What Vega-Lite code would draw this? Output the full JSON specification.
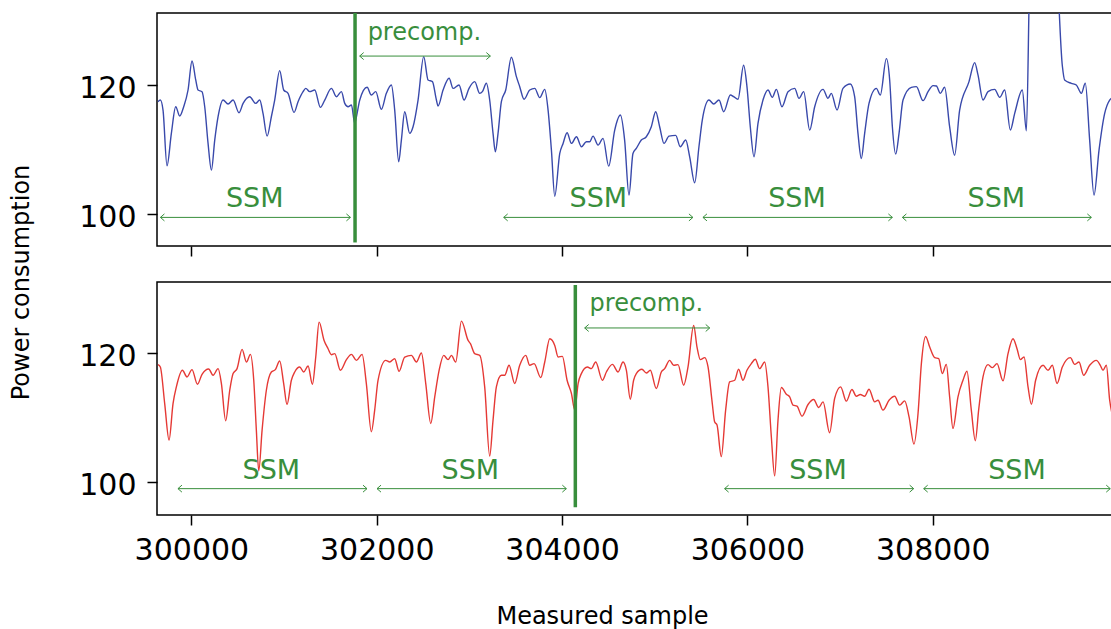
{
  "$schema": "https://vega.github.io/schema/vega-lite/v6.json",
  "padding": {"left": 8, "top": 10, "right": 0, "bottom": 5},
  "config": {
    "font": "DejaVu Sans",
    "view": {"stroke": "black", "strokeWidth": 1.5},
    "axis": {
      "domain": false,
      "grid": false,
      "tickColor": "black",
      "tickWidth": 1.5,
      "tickSize": 10,
      "labelFontSize": 30,
      "labelColor": "black",
      "titleFontSize": 24,
      "titleColor": "black",
      "titleFontWeight": "normal"
    }
  },
  "datasets": {
    "topLine": [
      {"x":299640,"y":117.40},{"x":299665,"y":117.66},{"x":299694,"y":116.10},{"x":299737,"y":107.43},{"x":299784,"y":112.47},
      {"x":299831,"y":116.62},{"x":299874,"y":115.17},{"x":299917,"y":116.62},{"x":299964,"y":119.22},{"x":300007,"y":123.74},
      {"x":300047,"y":120.78},{"x":300072,"y":119.22},{"x":300115,"y":118.96},{"x":300144,"y":116.62},{"x":300180,"y":110.91},
      {"x":300216,"y":106.75},{"x":300252,"y":111.43},{"x":300288,"y":115.06},{"x":300342,"y":117.66},{"x":300396,"y":117.04},
      {"x":300450,"y":117.66},{"x":300514,"y":115.69},{"x":300558,"y":117.14},{"x":300629,"y":118.18},{"x":300694,"y":117.14},
      {"x":300737,"y":117.66},{"x":300773,"y":115.58},{"x":300817,"y":112.05},{"x":300863,"y":115.06},{"x":300899,"y":117.66},
      {"x":300953,"y":122.23},{"x":300996,"y":119.22},{"x":301043,"y":118.70},{"x":301108,"y":115.74},{"x":301151,"y":117.40},
      {"x":301205,"y":118.96},{"x":301234,"y":119.48},{"x":301277,"y":118.96},{"x":301331,"y":119.22},{"x":301392,"y":116.52},
      {"x":301439,"y":117.66},{"x":301511,"y":119.48},{"x":301565,"y":118.18},{"x":301619,"y":118.96},{"x":301655,"y":117.14},
      {"x":301691,"y":116.62},{"x":301727,"y":116.88},{"x":301763,"y":114.03},{"x":301781,"y":115.06},{"x":301817,"y":117.66},
      {"x":301896,"y":119.64},{"x":301942,"y":118.44},{"x":301989,"y":118.96},{"x":302050,"y":116.21},{"x":302104,"y":118.70},
      {"x":302158,"y":120.00},{"x":302194,"y":116.10},{"x":302237,"y":108.05},{"x":302266,"y":111.43},{"x":302302,"y":115.84},
      {"x":302356,"y":112.47},{"x":302392,"y":113.51},{"x":302446,"y":117.66},{"x":302507,"y":124.42},{"x":302554,"y":120.78},
      {"x":302601,"y":120.52},{"x":302644,"y":117.66},{"x":302662,"y":116.73},{"x":302716,"y":119.22},{"x":302781,"y":121.04},
      {"x":302824,"y":119.48},{"x":302888,"y":120.00},{"x":302942,"y":117.66},{"x":302996,"y":119.48},{"x":303057,"y":120.52},
      {"x":303111,"y":118.70},{"x":303140,"y":118.96},{"x":303183,"y":120.26},{"x":303219,"y":117.66},{"x":303255,"y":112.47},
      {"x":303280,"y":109.61},{"x":303309,"y":112.47},{"x":303345,"y":117.40},{"x":303392,"y":119.22},{"x":303453,"y":124.31},
      {"x":303507,"y":121.30},{"x":303543,"y":119.74},{"x":303590,"y":117.77},{"x":303651,"y":119.22},{"x":303705,"y":119.48},
      {"x":303759,"y":118.03},{"x":303813,"y":119.32},{"x":303849,"y":116.10},{"x":303885,"y":109.87},{"x":303921,"y":102.70},
      {"x":303975,"y":109.35},{"x":304011,"y":110.91},{"x":304054,"y":112.57},{"x":304101,"y":110.91},{"x":304155,"y":111.95},
      {"x":304209,"y":110.39},{"x":304262,"y":111.17},{"x":304298,"y":111.17},{"x":304334,"y":112.05},{"x":304388,"y":110.65},
      {"x":304442,"y":111.69},{"x":304503,"y":107.38},{"x":304568,"y":112.99},{"x":304629,"y":115.32},{"x":304675,"y":111.43},
      {"x":304722,"y":102.86},{"x":304765,"y":109.35},{"x":304801,"y":110.13},{"x":304855,"y":111.43},{"x":304909,"y":111.95},
      {"x":304963,"y":113.51},{"x":305010,"y":115.84},{"x":305053,"y":113.51},{"x":305100,"y":110.91},{"x":305154,"y":112.05},
      {"x":305226,"y":112.16},{"x":305276,"y":110.39},{"x":305334,"y":111.43},{"x":305377,"y":108.83},{"x":305431,"y":104.78},
      {"x":305477,"y":110.39},{"x":305513,"y":114.55},{"x":305585,"y":117.66},{"x":305636,"y":117.04},{"x":305693,"y":117.66},
      {"x":305744,"y":115.84},{"x":305816,"y":118.44},{"x":305852,"y":118.18},{"x":305898,"y":117.77},{"x":305959,"y":123.06},
      {"x":305995,"y":119.74},{"x":306031,"y":113.51},{"x":306071,"y":108.83},{"x":306114,"y":114.03},{"x":306168,"y":117.66},
      {"x":306222,"y":119.22},{"x":306269,"y":118.08},{"x":306312,"y":119.32},{"x":306373,"y":116.62},{"x":306438,"y":118.96},
      {"x":306510,"y":119.48},{"x":306557,"y":117.92},{"x":306607,"y":118.96},{"x":306672,"y":112.99},{"x":306726,"y":116.62},
      {"x":306816,"y":119.32},{"x":306869,"y":117.92},{"x":306905,"y":118.70},{"x":306967,"y":116.10},{"x":307031,"y":119.48},
      {"x":307110,"y":120.16},{"x":307157,"y":118.18},{"x":307193,"y":112.47},{"x":307229,"y":108.57},{"x":307265,"y":112.47},
      {"x":307312,"y":117.14},{"x":307391,"y":119.48},{"x":307434,"y":118.44},{"x":307499,"y":124.10},{"x":307535,"y":120.78},
      {"x":307564,"y":113.51},{"x":307600,"y":109.25},{"x":307636,"y":112.47},{"x":307679,"y":117.66},{"x":307769,"y":119.64},
      {"x":307823,"y":119.74},{"x":307895,"y":117.56},{"x":307949,"y":118.96},{"x":308003,"y":119.90},{"x":308039,"y":119.84},
      {"x":308082,"y":118.70},{"x":308128,"y":119.64},{"x":308182,"y":113.51},{"x":308236,"y":109.09},{"x":308290,"y":116.10},
      {"x":308391,"y":120.52},{"x":308452,"y":123.48},{"x":308488,"y":121.56},{"x":308542,"y":117.66},{"x":308596,"y":118.96},
      {"x":308668,"y":119.32},{"x":308722,"y":118.08},{"x":308776,"y":119.22},{"x":308837,"y":112.99},{"x":308884,"y":115.58},
      {"x":308966,"y":119.22},{"x":309010,"y":112.88},{"x":309053,"y":140.0},{"x":309190,"y":143.0},{"x":309326,"y":140.0},
      {"x":309398,"y":123.0},{"x":309423,"y":120.78},{"x":309495,"y":120.26},{"x":309549,"y":120.00},{"x":309603,"y":118.70},
      {"x":309646,"y":120.26},{"x":309693,"y":111.43},{"x":309740,"y":102.86},{"x":309794,"y":109.87},{"x":309855,"y":115.58},
      {"x":309909,"y":117.66},{"x":309935,"y":118.0}
    ],
    "bottomLine": [
      {"x":299640,"y":118.19},{"x":299665,"y":117.83},{"x":299712,"y":112.14},{"x":299759,"y":106.46},{"x":299802,"y":112.14},
      {"x":299838,"y":114.73},{"x":299903,"y":117.31},{"x":299953,"y":116.28},{"x":300007,"y":117.42},{"x":300065,"y":115.14},
      {"x":300115,"y":116.69},{"x":300187,"y":117.52},{"x":300234,"y":116.54},{"x":300288,"y":117.57},{"x":300324,"y":115.25},
      {"x":300370,"y":109.46},{"x":300414,"y":114.21},{"x":300450,"y":116.80},{"x":300493,"y":117.57},{"x":300547,"y":120.57},
      {"x":300594,"y":118.60},{"x":300637,"y":119.79},{"x":300673,"y":115.76},{"x":300701,"y":108.01},{"x":300727,"y":101.65},
      {"x":300763,"y":108.01},{"x":300809,"y":114.21},{"x":300863,"y":117.05},{"x":300906,"y":117.42},{"x":300953,"y":118.76},
      {"x":300996,"y":115.25},{"x":301032,"y":111.99},{"x":301079,"y":115.76},{"x":301115,"y":117.05},{"x":301169,"y":117.83},
      {"x":301212,"y":117.05},{"x":301259,"y":117.98},{"x":301306,"y":115.14},{"x":301342,"y":119.38},{"x":301378,"y":124.81},
      {"x":301432,"y":121.96},{"x":301475,"y":120.67},{"x":301511,"y":119.74},{"x":301547,"y":119.90},{"x":301608,"y":117.31},
      {"x":301673,"y":118.97},{"x":301727,"y":119.79},{"x":301781,"y":118.86},{"x":301842,"y":119.79},{"x":301888,"y":115.25},
      {"x":301942,"y":107.75},{"x":301978,"y":111.11},{"x":302014,"y":115.76},{"x":302097,"y":118.86},{"x":302140,"y":118.60},
      {"x":302194,"y":119.12},{"x":302241,"y":117.16},{"x":302302,"y":119.38},{"x":302374,"y":119.64},{"x":302428,"y":118.60},
      {"x":302482,"y":120.00},{"x":302529,"y":115.25},{"x":302583,"y":109.04},{"x":302626,"y":113.18},{"x":302673,"y":117.31},
      {"x":302723,"y":119.64},{"x":302770,"y":118.97},{"x":302806,"y":119.64},{"x":302852,"y":118.60},{"x":302914,"y":124.96},
      {"x":302986,"y":121.96},{"x":303011,"y":121.45},{"x":303057,"y":119.90},{"x":303111,"y":119.64},{"x":303165,"y":114.73},
      {"x":303219,"y":103.98},{"x":303255,"y":109.56},{"x":303291,"y":114.73},{"x":303345,"y":116.54},{"x":303381,"y":116.54},
      {"x":303428,"y":118.09},{"x":303489,"y":115.25},{"x":303543,"y":118.09},{"x":303608,"y":119.64},{"x":303651,"y":118.09},
      {"x":303698,"y":118.35},{"x":303770,"y":116.18},{"x":303813,"y":118.60},{"x":303867,"y":122.22},{"x":303921,"y":121.19},
      {"x":303957,"y":119.38},{"x":304003,"y":119.48},{"x":304054,"y":115.76},{"x":304101,"y":113.70},{"x":304137,"y":111.11},
      {"x":304173,"y":115.25},{"x":304208,"y":116.80},{"x":304273,"y":117.83},{"x":304316,"y":117.57},{"x":304363,"y":118.60},
      {"x":304435,"y":115.76},{"x":304478,"y":117.05},{"x":304543,"y":118.24},{"x":304604,"y":117.05},{"x":304658,"y":118.60},
      {"x":304694,"y":117.31},{"x":304736,"y":112.82},{"x":304772,"y":115.76},{"x":304801,"y":116.80},{"x":304862,"y":117.47},
      {"x":304909,"y":116.90},{"x":304952,"y":117.31},{"x":305017,"y":114.47},{"x":305071,"y":117.05},{"x":305107,"y":117.57},
      {"x":305161,"y":118.86},{"x":305204,"y":118.09},{"x":305251,"y":118.19},{"x":305312,"y":114.99},{"x":305359,"y":117.83},
      {"x":305420,"y":124.29},{"x":305456,"y":120.93},{"x":305492,"y":118.97},{"x":305539,"y":119.28},{"x":305575,"y":117.83},
      {"x":305621,"y":112.14},{"x":305646,"y":109.30},{"x":305672,"y":108.79},{"x":305718,"y":103.88},{"x":305765,"y":111.11},
      {"x":305808,"y":115.50},{"x":305862,"y":115.76},{"x":305905,"y":117.47},{"x":305952,"y":115.76},{"x":305995,"y":117.31},
      {"x":306042,"y":118.35},{"x":306085,"y":119.02},{"x":306132,"y":117.57},{"x":306186,"y":118.60},{"x":306222,"y":114.73},
      {"x":306258,"y":106.98},{"x":306294,"y":100.88},{"x":306330,"y":109.56},{"x":306366,"y":114.63},{"x":306420,"y":113.59},
      {"x":306456,"y":113.18},{"x":306492,"y":111.89},{"x":306535,"y":111.73},{"x":306589,"y":110.18},{"x":306654,"y":111.99},
      {"x":306715,"y":112.76},{"x":306769,"y":111.52},{"x":306816,"y":112.40},{"x":306887,"y":107.60},{"x":306941,"y":112.92},
      {"x":307006,"y":114.73},{"x":307067,"y":112.51},{"x":307128,"y":114.32},{"x":307175,"y":113.28},{"x":307218,"y":113.54},
      {"x":307265,"y":113.28},{"x":307312,"y":114.37},{"x":307373,"y":112.40},{"x":307409,"y":112.66},{"x":307463,"y":111.11},
      {"x":307528,"y":112.66},{"x":307589,"y":113.28},{"x":307643,"y":111.89},{"x":307697,"y":112.56},{"x":307744,"y":110.08},
      {"x":307797,"y":105.84},{"x":307841,"y":110.59},{"x":307877,"y":118.35},{"x":307923,"y":122.58},{"x":307967,"y":120.93},
      {"x":308021,"y":119.28},{"x":308064,"y":119.12},{"x":308103,"y":116.80},{"x":308146,"y":118.24},{"x":308182,"y":113.18},
      {"x":308218,"y":108.27},{"x":308272,"y":113.18},{"x":308326,"y":115.76},{"x":308369,"y":117.16},{"x":308416,"y":111.11},
      {"x":308459,"y":106.36},{"x":308495,"y":111.11},{"x":308542,"y":116.28},{"x":308596,"y":118.19},{"x":308643,"y":117.73},
      {"x":308693,"y":118.35},{"x":308758,"y":115.66},{"x":308812,"y":119.90},{"x":308866,"y":122.22},{"x":308909,"y":120.67},
      {"x":308945,"y":118.97},{"x":308985,"y":119.38},{"x":309028,"y":114.73},{"x":309064,"y":112.04},{"x":309110,"y":115.76},
      {"x":309190,"y":118.09},{"x":309244,"y":117.31},{"x":309290,"y":118.09},{"x":309341,"y":115.25},{"x":309398,"y":117.83},
      {"x":309485,"y":119.28},{"x":309531,"y":118.24},{"x":309578,"y":118.60},{"x":309628,"y":116.54},{"x":309693,"y":118.09},
      {"x":309765,"y":118.86},{"x":309808,"y":118.09},{"x":309837,"y":117.31},{"x":309873,"y":118.09},{"x":309909,"y":112.66},
      {"x":309935,"y":110.5}
    ],
    "topArrows": [
      {"x":299666,"x2":301716,"y":99.4},
      {"x":303370,"x2":305412,"y":99.4},
      {"x":305520,"x2":307564,"y":99.4},
      {"x":307672,"x2":309711,"y":99.4},
      {"x":301816,"x2":303226,"y":124.5}
    ],
    "bottomArrows": [
      {"x":299855,"x2":301895,"y":98.9},
      {"x":302003,"x2":304046,"y":98.9},
      {"x":305754,"x2":307794,"y":98.9},
      {"x":307902,"x2":309915,"y":98.9},
      {"x":304244,"x2":305593,"y":123.9}
    ],
    "topText": [
      {"x":300683,"y":100.94,"label":"SSM","kind":"ssm"},
      {"x":304391,"y":100.94,"label":"SSM","kind":"ssm"},
      {"x":306535,"y":100.94,"label":"SSM","kind":"ssm"},
      {"x":308686,"y":100.94,"label":"SSM","kind":"ssm"},
      {"x":302514,"y":127.0,"label":"precomp.","kind":"pre"}
    ],
    "bottomText": [
      {"x":300863,"y":100.46,"label":"SSM","kind":"ssm"},
      {"x":303010,"y":100.46,"label":"SSM","kind":"ssm"},
      {"x":306761,"y":100.46,"label":"SSM","kind":"ssm"},
      {"x":308908,"y":100.46,"label":"SSM","kind":"ssm"},
      {"x":304909,"y":126.53,"label":"precomp.","kind":"pre"}
    ],
    "topRule": [{"x":301766,"y":95.5,"y2":131.2}],
    "bottomRule": [{"x":304143,"y":96.0,"y2":130.6}]
  },
  "spacing": 36,
  "bounds": "flush",
  "vconcat": [
    {
      "width": 955,
      "height": 233,
      "layer": [
        {
          "data": {"name": "topLine"},
          "mark": {"type": "line", "color": "#3949AB", "strokeWidth": 1.4, "interpolate": "monotone", "clip": true},
          "encoding": {
            "x": {"field": "x", "type": "quantitative", "scale": {"domain": [299629, 309934], "nice": false, "zero": false},
                  "axis": {"values": [300000, 302000, 304000, 306000, 308000], "labels": false, "title": null}},
            "y": {"field": "y", "type": "quantitative", "scale": {"domain": [94.95, 131.2], "nice": false, "zero": false},
                  "axis": {"values": [100, 120], "labelPadding": 11, "labelOffset": 3.5, "title": "Power consumption",
                           "titleX": -129, "titleY": 269, "titleAngle": 270, "titleAlign": "center", "titleBaseline": "alphabetic"}}
          }
        },
        {
          "data": {"name": "topRule"},
          "mark": {"type": "rule", "color": "#388E3C", "strokeWidth": 3.5},
          "encoding": {
            "x": {"field": "x", "type": "quantitative", "scale": {"domain": [299629, 309934], "nice": false, "zero": false}},
            "y": {"field": "y", "type": "quantitative", "scale": {"domain": [94.95, 131.2], "nice": false, "zero": false}},
            "y2": {"field": "y2"}
          }
        },
        {
          "data": {"name": "topArrows"},
          "mark": {"type": "rule", "color": "#388E3C", "strokeWidth": 1, "clip": true},
          "encoding": {
            "x": {"field": "x", "type": "quantitative", "scale": {"domain": [299629, 309934], "nice": false, "zero": false}},
            "x2": {"field": "x2"},
            "y": {"field": "y", "type": "quantitative", "scale": {"domain": [94.95, 131.2], "nice": false, "zero": false}}
          }
        },
        {
          "data": {"name": "topArrows"},
          "mark": {"type": "point", "shape": "M 1 -0.875 L 0 0 L 1 0.875", "size": 64, "filled": false, "opacity": 1, "stroke": "#388E3C", "strokeWidth": 1, "clip": true},
          "encoding": {
            "x": {"field": "x", "type": "quantitative", "scale": {"domain": [299629, 309934], "nice": false, "zero": false}},
            "y": {"field": "y", "type": "quantitative", "scale": {"domain": [94.95, 131.2], "nice": false, "zero": false}}
          }
        },
        {
          "data": {"name": "topArrows"},
          "mark": {"type": "point", "shape": "M -1 -0.875 L 0 0 L -1 0.875", "size": 64, "filled": false, "opacity": 1, "stroke": "#388E3C", "strokeWidth": 1, "clip": true},
          "encoding": {
            "x": {"field": "x2", "type": "quantitative", "scale": {"domain": [299629, 309934], "nice": false, "zero": false}},
            "y": {"field": "y", "type": "quantitative", "scale": {"domain": [94.95, 131.2], "nice": false, "zero": false}}
          }
        },
        {
          "data": {"name": "topText"},
          "transform": [{"filter": "datum.kind == 'ssm'"}],
          "mark": {"type": "text", "color": "#388E3C", "fontSize": 27, "align": "center", "baseline": "alphabetic"},
          "encoding": {
            "x": {"field": "x", "type": "quantitative", "scale": {"domain": [299629, 309934], "nice": false, "zero": false}},
            "y": {"field": "y", "type": "quantitative", "scale": {"domain": [94.95, 131.2], "nice": false, "zero": false}},
            "text": {"field": "label"}
          }
        },
        {
          "data": {"name": "topText"},
          "transform": [{"filter": "datum.kind == 'pre'"}],
          "mark": {"type": "text", "color": "#388E3C", "fontSize": 24, "align": "center", "baseline": "alphabetic"},
          "encoding": {
            "x": {"field": "x", "type": "quantitative", "scale": {"domain": [299629, 309934], "nice": false, "zero": false}},
            "y": {"field": "y", "type": "quantitative", "scale": {"domain": [94.95, 131.2], "nice": false, "zero": false}},
            "text": {"field": "label"}
          }
        }
      ]
    },
    {
      "width": 955,
      "height": 233,
      "layer": [
        {
          "data": {"name": "bottomLine"},
          "mark": {"type": "line", "color": "#E53935", "strokeWidth": 1.4, "interpolate": "monotone", "clip": true},
          "encoding": {
            "x": {"field": "x", "type": "quantitative", "scale": {"domain": [299629, 309934], "nice": false, "zero": false},
                  "axis": {"values": [300000, 302000, 304000, 306000, 308000], "format": "d", "labelPadding": 10,
                           "title": "Measured sample", "titleX": 445, "titleY": 108.7, "titleAlign": "center", "titleBaseline": "alphabetic"}},
            "y": {"field": "y", "type": "quantitative", "scale": {"domain": [94.8, 131.05], "nice": false, "zero": false},
                  "axis": {"values": [100, 120], "labelPadding": 11, "labelOffset": 3.5, "title": null}}
          }
        },
        {
          "data": {"name": "bottomRule"},
          "mark": {"type": "rule", "color": "#388E3C", "strokeWidth": 3.5},
          "encoding": {
            "x": {"field": "x", "type": "quantitative", "scale": {"domain": [299629, 309934], "nice": false, "zero": false}},
            "y": {"field": "y", "type": "quantitative", "scale": {"domain": [94.8, 131.05], "nice": false, "zero": false}},
            "y2": {"field": "y2"}
          }
        },
        {
          "data": {"name": "bottomArrows"},
          "mark": {"type": "rule", "color": "#388E3C", "strokeWidth": 1, "clip": true},
          "encoding": {
            "x": {"field": "x", "type": "quantitative", "scale": {"domain": [299629, 309934], "nice": false, "zero": false}},
            "x2": {"field": "x2"},
            "y": {"field": "y", "type": "quantitative", "scale": {"domain": [94.8, 131.05], "nice": false, "zero": false}}
          }
        },
        {
          "data": {"name": "bottomArrows"},
          "mark": {"type": "point", "shape": "M 1 -0.875 L 0 0 L 1 0.875", "size": 64, "filled": false, "opacity": 1, "stroke": "#388E3C", "strokeWidth": 1, "clip": true},
          "encoding": {
            "x": {"field": "x", "type": "quantitative", "scale": {"domain": [299629, 309934], "nice": false, "zero": false}},
            "y": {"field": "y", "type": "quantitative", "scale": {"domain": [94.8, 131.05], "nice": false, "zero": false}}
          }
        },
        {
          "data": {"name": "bottomArrows"},
          "mark": {"type": "point", "shape": "M -1 -0.875 L 0 0 L -1 0.875", "size": 64, "filled": false, "opacity": 1, "stroke": "#388E3C", "strokeWidth": 1, "clip": true},
          "encoding": {
            "x": {"field": "x2", "type": "quantitative", "scale": {"domain": [299629, 309934], "nice": false, "zero": false}},
            "y": {"field": "y", "type": "quantitative", "scale": {"domain": [94.8, 131.05], "nice": false, "zero": false}}
          }
        },
        {
          "data": {"name": "bottomText"},
          "transform": [{"filter": "datum.kind == 'ssm'"}],
          "mark": {"type": "text", "color": "#388E3C", "fontSize": 27, "align": "center", "baseline": "alphabetic"},
          "encoding": {
            "x": {"field": "x", "type": "quantitative", "scale": {"domain": [299629, 309934], "nice": false, "zero": false}},
            "y": {"field": "y", "type": "quantitative", "scale": {"domain": [94.8, 131.05], "nice": false, "zero": false}},
            "text": {"field": "label"}
          }
        },
        {
          "data": {"name": "bottomText"},
          "transform": [{"filter": "datum.kind == 'pre'"}],
          "mark": {"type": "text", "color": "#388E3C", "fontSize": 24, "align": "center", "baseline": "alphabetic"},
          "encoding": {
            "x": {"field": "x", "type": "quantitative", "scale": {"domain": [299629, 309934], "nice": false, "zero": false}},
            "y": {"field": "y", "type": "quantitative", "scale": {"domain": [94.8, 131.05], "nice": false, "zero": false}},
            "text": {"field": "label"}
          }
        }
      ]
    }
  ]
}
